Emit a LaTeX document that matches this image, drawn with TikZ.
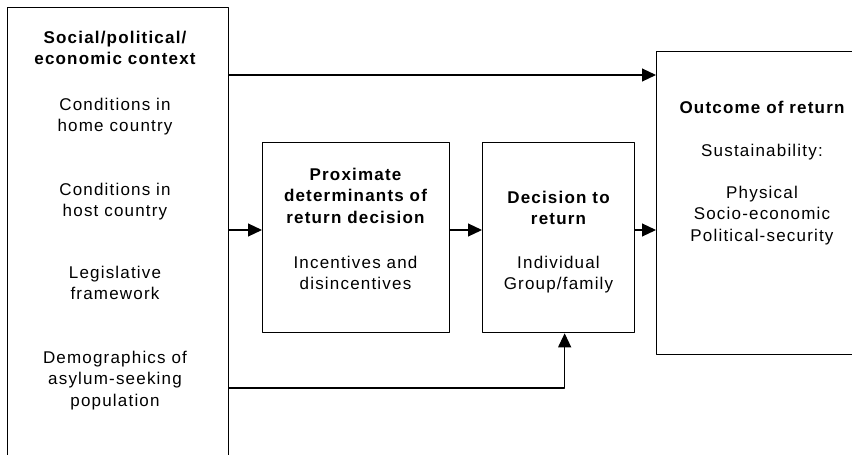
\documentclass[tikz,border=0pt]{standalone}
\usepackage{fontspec}
\setmainfont{Liberation Sans}[LetterSpace=7]
\usetikzlibrary{arrows.meta,positioning,calc}
\begin{document}
\begin{tikzpicture}[>={Triangle[length=14pt,width=13pt]},line join=round,x=1pt,y=-1pt,
	font=\fontsize{17}{21.5}\selectfont,
	box/.style={draw,line width=1.3pt,inner sep=0pt,anchor=north west},
	txt/.style={align=center,inner sep=0pt,anchor=north},
	hd/.style={txt,font=\fontsize{17}{21.5}\selectfont\bfseries}]
	\useasboundingbox (0,0) rectangle (852,455);
	\clip (0,0) rectangle (852,455);
	% cac hop
	\node[box,minimum width=221pt,minimum height=480pt] (ctx) at (7,7) {};
	\node[box,minimum width=187pt,minimum height=190pt] (prox) at (262,142) {};
	\node[box,minimum width=152pt,minimum height=190pt] (dec) at (482,142) {};
	\node[box,minimum width=212pt,minimum height=303pt] (out) at (656,51) {};
	% chu trong hop trai
	\node[hd] (ctxtitle) at (115,30.8) {Social/political/\\economic context};
	\foreach \y/\t [count=\i] in {97.8/{Conditions in\\home country},182.8/{Conditions in\\host country},265.8/{Legislative\\framework},350.8/{Demographics of\\asylum-seeking\\population}}{
		\node[txt] (ctx\i) at (115,\y) {\t};
	}
	% chu trong cac hop giua
	\node[hd] (proxtitle) at (355.5,167.8) {Proximate\\determinants of\\return decision};
	\node[txt] (proxsub) at (355.5,255.8) {Incentives and\\disincentives};
	\node[hd] (dectitle) at (558.5,190.8) {Decision to\\return};
	\node[txt] (decsub) at (558.5,255.8) {Individual\\Group/family};
	% chu trong hop phai
	\node[hd] (outtitle) at (762,100.8) {Outcome of return};
	\node[txt] (outsub) at (762,143.8) {Sustainability:};
	\node[txt] (outlist) at (762,185.8) {Physical\\Socio-economic\\Political-security};
	% cac mui ten
	\draw[->,line width=1.1pt] (ctx.east |- 0,75) -- (out.west |- 0,75);
	\draw[->,line width=1.1pt] (ctx.east |- 0,230) -- (prox.west |- 0,230);
	\draw[->,line width=1.1pt] (prox.east |- 0,230) -- (dec.west |- 0,230);
	\draw[->,line width=1.1pt] (dec.east |- 0,230) -- (out.west |- 0,230);
	\draw[->,line width=1.1pt] (ctx.east |- 0,388) -| ([xshift=6pt]dec.south);
\end{tikzpicture}
\end{document}
